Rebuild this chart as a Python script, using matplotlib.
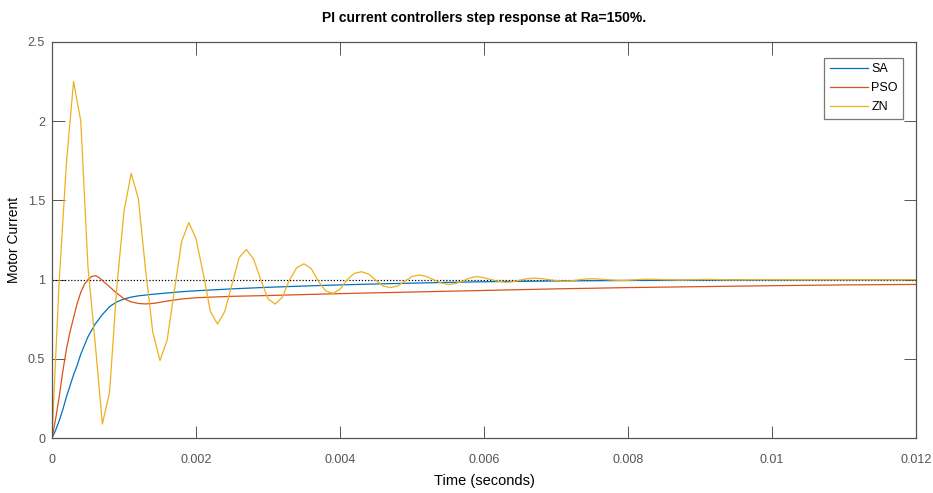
import matplotlib
matplotlib.use("Agg")
import matplotlib.pyplot as plt
import numpy as np

# SA controller response
sa_t = [0, 0.00005, 0.0001, 0.00015, 0.0002, 0.00025, 0.0003, 0.00035, 0.0004,
        0.0005, 0.0006, 0.0007, 0.0008, 0.0009, 0.001, 0.0011, 0.0012, 0.0014,
        0.0016, 0.0018, 0.002, 0.0025, 0.003, 0.0035, 0.004, 0.0045, 0.005,
        0.0055, 0.006, 0.007, 0.008, 0.009, 0.01, 0.011, 0.012]
sa_v = [0, 0.05, 0.11, 0.18, 0.26, 0.33, 0.40, 0.46, 0.53,
        0.64, 0.72, 0.78, 0.83, 0.86, 0.878, 0.89, 0.898, 0.908,
        0.916, 0.924, 0.93, 0.942, 0.952, 0.96, 0.967, 0.973, 0.978,
        0.983, 0.987, 0.992, 0.995, 0.997, 0.998, 0.999, 1.0]

# PSO controller response
pso_t = [0, 0.00005, 0.0001, 0.00015, 0.0002, 0.00025, 0.0003, 0.00035, 0.0004,
         0.00045, 0.0005, 0.00055, 0.0006, 0.00065, 0.0007, 0.0008, 0.0009,
         0.001, 0.0011, 0.0012, 0.0013, 0.0014, 0.0015, 0.0016, 0.0018, 0.002,
         0.0025, 0.003, 0.004, 0.005, 0.006, 0.007, 0.008, 0.009, 0.01, 0.011,
         0.012]
pso_v = [0, 0.12, 0.26, 0.42, 0.56, 0.67, 0.76, 0.85, 0.92,
         0.97, 1.0, 1.02, 1.025, 1.015, 0.995, 0.955, 0.915,
         0.88, 0.86, 0.85, 0.847, 0.85, 0.857, 0.865, 0.878, 0.886,
         0.895, 0.9, 0.912, 0.922, 0.932, 0.942, 0.95, 0.956, 0.962, 0.967,
         0.97]

# ZN controller response, sampled every 0.1 ms
zn_dt = 0.0001
zn_v = [0, 0.99, 1.73, 2.25, 2.0, 1.08, 0.6, 0.09, 0.29, 0.95,
        1.43, 1.67, 1.51, 1.06, 0.67, 0.49, 0.62, 0.93, 1.24, 1.36,
        1.26, 1.04, 0.80, 0.72, 0.80, 0.97, 1.14, 1.19, 1.13, 1.0,
        0.88, 0.846, 0.89, 1.0, 1.076, 1.10, 1.07, 0.99, 0.93, 0.913,
        0.94, 1.0, 1.04, 1.05, 1.035, 0.995, 0.96, 0.95, 0.96, 0.99,
        1.02, 1.03, 1.02, 1.0, 0.98, 0.97, 0.975, 0.99, 1.01, 1.02,
        1.012, 1.0, 0.99, 0.983, 0.987, 0.997, 1.006, 1.01, 1.007, 1.0,
        0.995, 0.99, 0.992, 0.998, 1.004, 1.006, 1.004, 1.0, 0.997, 0.995,
        0.996, 0.999, 1.002, 1.003, 1.002, 1.0, 0.999, 0.998, 0.998, 1.0,
        1.001, 1.002, 1.001, 1.0, 0.999, 0.999, 0.999, 1.0, 1.0, 1.0,
        1.0, 1.0, 1.0, 1.0, 1.0, 1.0, 1.0, 1.0, 1.0, 1.0,
        1.0, 1.0, 1.0, 1.0, 1.0, 1.0, 1.0, 1.0, 1.0, 1.0, 1.0]
zn_t = np.arange(len(zn_v)) * zn_dt

ref_t = [0, 0.012]
ref_v = [1, 1]

x_ticks = [0, 0.002, 0.004, 0.006, 0.008, 0.01, 0.012]
x_labels = ["0", "0.002", "0.004", "0.006", "0.008", "0.01", "0.012"]
y_ticks = [0, 0.5, 1, 1.5, 2, 2.5]
y_labels = ["0", "0.5", "1", "1.5", "2", "2.5"]

font = ["Liberation Sans", "DejaVu Sans"]
tick_color = "#555555"

fig = plt.figure(figsize=(9.33, 4.93), dpi=100)
ax = fig.add_axes([0.0557, 0.111, 0.9261, 0.8043])

ax.plot(ref_t, ref_v, color="black", linestyle=(0, (1, 1.5)), linewidth=0.9)
l1, = ax.plot(sa_t, sa_v, color="#0072BD", linewidth=0.9, label="SA")
l2, = ax.plot(pso_t, pso_v, color="#D95319", linewidth=0.9, label="PSO")
l3, = ax.plot(zn_t, zn_v, color="#EDB120", linewidth=0.9, label="ZN")

ax.set_xlim(0, 0.012)
ax.set_ylim(0, 2.5)
ax.set_xticks(x_ticks)
ax.set_xticklabels(x_labels, family=font, fontsize=9, color=tick_color)
ax.set_yticks(y_ticks)
ax.set_yticklabels(y_labels, family=font, fontsize=9, color=tick_color)
ax.tick_params(direction="in", length=9, width=0.7, color="#555555",
               top=True, right=True, pad=5)
ax.tick_params(axis="x", pad=11)
for s in ax.spines.values():
    s.set_color("#555555")
    s.set_linewidth(0.9)

ax.set_title("PI current controllers step response at Ra=150%.",
             family=font, fontsize=10, fontweight="bold", pad=14)
ax.set_xlabel("Time (seconds)", family=font, fontsize=10.5, labelpad=6)
ax.set_ylabel("Motor Current", family=font, fontsize=10)
ax.yaxis.set_label_coords(-0.036, 0.5)

leg = ax.legend(handles=[l1, l2, l3], loc="upper right",
                bbox_to_anchor=(0.9855, 0.96), fancybox=False,
                prop={"family": font, "size": 9}, handlelength=3.0,
                borderpad=0.45, labelspacing=0.55, handletextpad=0.3,
                borderaxespad=0)
leg.get_frame().set_edgecolor("#555555")
leg.get_frame().set_linewidth(0.9)

fig.savefig("out.png", dpi=100)
